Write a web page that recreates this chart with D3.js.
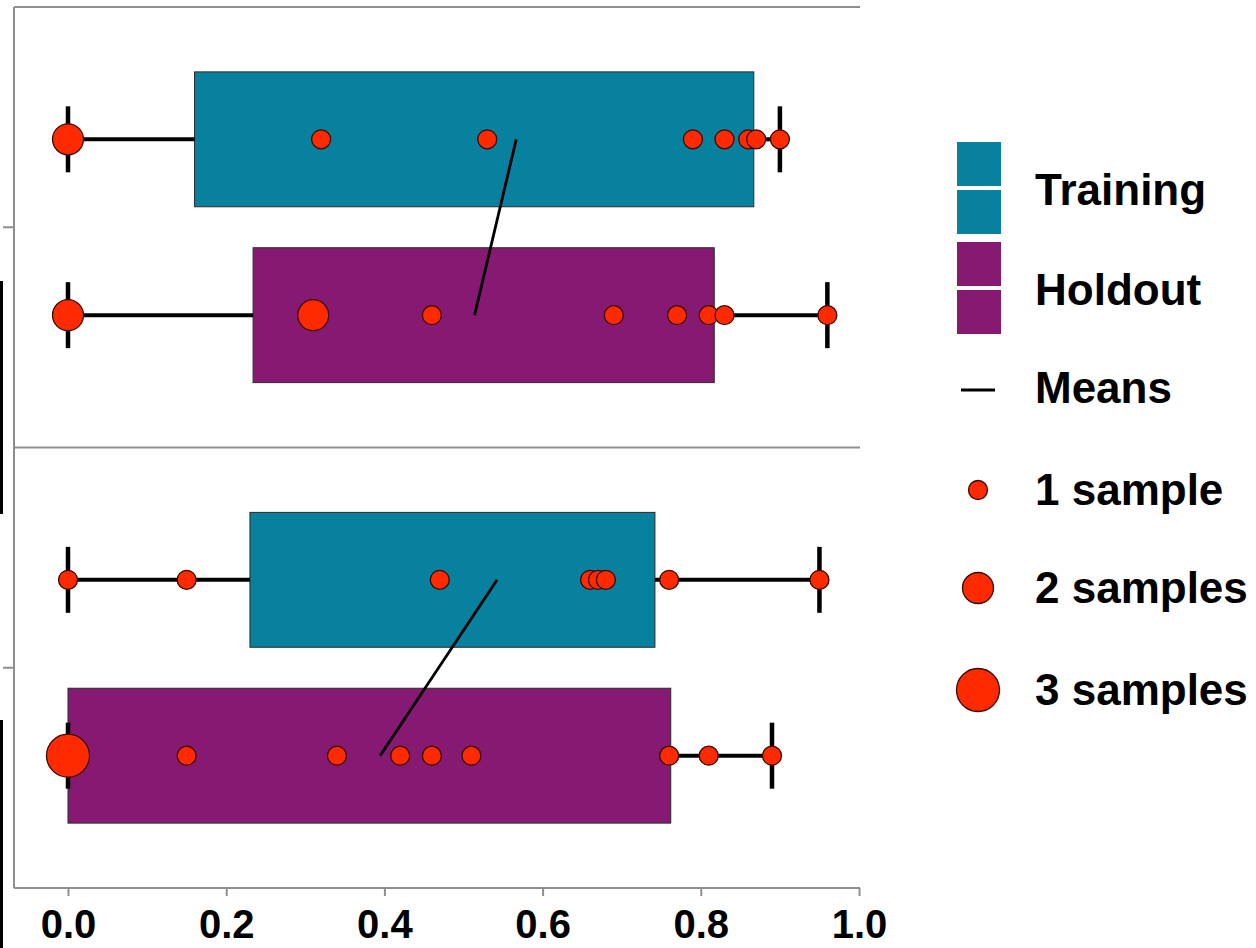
<!DOCTYPE html>
<html>
<head>
<meta charset="utf-8">
<script src="https://cdn.jsdelivr.net/npm/d3@7"></script>
<style>
  html, body { margin: 0; padding: 0; background: #fff; }
  svg { display: block; font-family: "Liberation Sans", Arial, sans-serif; }
</style>
</head>
<body>
<div id="chart"></div>
<script>
// Two stacked panels, each with a Training and a Holdout box
const panels = ['top', 'bottom'];
const groups = ['Training', 'Holdout'];

// individual samples per panel / group
const trainingTop = [0, 0, 0.32, 0.53, 0.79, 0.83, 0.86, 0.87, 0.90];
const holdoutTop = [0, 0, 0.31, 0.31, 0.46, 0.69, 0.77, 0.81, 0.83, 0.96];
const trainingBottom = [0, 0.15, 0.47, 0.66, 0.67, 0.68, 0.76, 0.95];
const holdoutBottom = [0, 0, 0, 0.15, 0.34, 0.42, 0.46, 0.51, 0.76, 0.81, 0.89];

// box edges (lower / upper)
const boxLowTop = [0.16, 0.234];
const boxHighTop = [0.867, 0.817];
const boxLowBottom = [0.23, 0.0];
const boxHighBottom = [0.742, 0.762];

const xTicks = [0, 0.2, 0.4, 0.6, 0.8, 1.0];
const legendSizes = [1, 2, 3];

const colors = { Training: '#07819d', Holdout: '#861a73' };
const pointFill = '#ff2a00';
const axisGray = '#8e8e8e';

const samples = {
    top: { Training: trainingTop, Holdout: holdoutTop },
    bottom: { Training: trainingBottom, Holdout: holdoutBottom }
};
const boxes = {
    top: { low: boxLowTop, high: boxHighTop },
    bottom: { low: boxLowBottom, high: boxHighBottom }
};

const width = 1256, height = 948;
const plotLeft = 14, plotRight = 860, plotTop = 7, plotBottom = 888;

const svg = d3.select('#chart').append('svg')
    .attr('width', width)
    .attr('height', height);

const x = d3.scaleLinear().domain([0, 1]).range([68, 859]);
const yPanel = d3.scaleBand().domain(panels).range([plotTop, plotBottom]);
const yGroup = d3.scaleBand().domain(groups)
    .range([0, yPanel.bandwidth()])
    .paddingInner(0.233)
    .paddingOuter(0.369);
const r = d3.scaleLinear().domain([1, 3]).range([9.5, 21.5]);

// cropped label remnants at the far left edge
svg.append('rect').attr('x', 0).attr('y', 281).attr('width', 3).attr('height', 233).attr('fill', '#000');
svg.append('rect').attr('x', 0).attr('y', 720).attr('width', 3).attr('height', 228).attr('fill', '#000');

const g = svg.append('g');

panels.forEach(p => {
    const py = yPanel(p);
    const means = [];

    groups.forEach((grp, i) => {
        const vals = samples[p][grp];
        const y0 = py + yGroup(grp);
        const bh = yGroup.bandwidth();
        const cy = y0 + bh / 2;
        const lo = boxes[p].low[i], hi = boxes[p].high[i];
        const mn = d3.min(vals), mx = d3.max(vals);

        // box
        g.append('rect')
            .attr('x', x(lo))
            .attr('y', y0)
            .attr('width', x(hi) - x(lo))
            .attr('height', bh)
            .attr('fill', colors[grp])
            .attr('stroke', '#2a2a2a')
            .attr('stroke-width', 1);

        // whiskers
        if (mn < lo) {
            g.append('line').attr('x1', x(mn)).attr('x2', x(lo)).attr('y1', cy).attr('y2', cy)
                .attr('stroke', '#000').attr('stroke-width', 4);
        }
        if (mx > hi) {
            g.append('line').attr('x1', x(hi)).attr('x2', x(mx)).attr('y1', cy).attr('y2', cy)
                .attr('stroke', '#000').attr('stroke-width', 4);
        }
        [mn, mx].forEach(v => {
            g.append('line').attr('x1', x(v)).attr('x2', x(v)).attr('y1', cy - 33).attr('y2', cy + 33)
                .attr('stroke', '#000').attr('stroke-width', 4.5);
        });

        means.push({ x: x(d3.mean(vals)), y: cy });
    });

    // line joining the two means
    g.append('line')
        .attr('x1', means[0].x).attr('y1', means[0].y)
        .attr('x2', means[1].x).attr('y2', means[1].y)
        .attr('stroke', '#000')
        .attr('stroke-width', 2.8);

    // points, sized by number of samples at the same value
    groups.forEach(grp => {
        const cy = py + yGroup(grp) + yGroup.bandwidth() / 2;
        const counts = Array.from(d3.rollup(samples[p][grp], v => v.length, d => d));
        g.selectAll(null)
            .data(counts)
            .join('circle')
            .attr('cx', d => x(d[0]))
            .attr('cy', cy)
            .attr('r', d => r(d[1]))
            .attr('fill', pointFill)
            .attr('stroke', '#3a0a00')
            .attr('stroke-width', 1.3);
    });
});

// frame lines
const frame = svg.append('g').attr('stroke', axisGray).attr('stroke-width', 2).attr('fill', 'none');
frame.append('line').attr('x1', plotLeft).attr('x2', plotRight).attr('y1', plotTop).attr('y2', plotTop);
frame.append('line').attr('x1', plotLeft).attr('x2', plotRight).attr('y1', yPanel('bottom')).attr('y2', yPanel('bottom'));
frame.append('line').attr('x1', plotLeft).attr('x2', plotLeft).attr('y1', plotTop).attr('y2', plotBottom);

// y ticks at panel centres
panels.forEach(p => {
    const cy = yPanel(p) + yPanel.bandwidth() / 2;
    frame.append('line').attr('x1', 3).attr('x2', plotLeft).attr('y1', cy).attr('y2', cy);
});

// x axis
const xAxis = svg.append('g')
    .attr('transform', `translate(0,${plotBottom})`)
    .call(d3.axisBottom(x).tickValues(xTicks).tickFormat(d3.format('.1f')).tickSize(8).tickPadding(14));
xAxis.select('.domain').remove();
xAxis.append('line').attr('x1', plotLeft).attr('x2', plotRight).attr('y1', 0).attr('y2', 0)
    .attr('stroke', axisGray).attr('stroke-width', 2);
xAxis.selectAll('.tick line').attr('stroke', axisGray).attr('stroke-width', 2);
xAxis.selectAll('.tick text')
    .attr('fill', '#000')
    .attr('font-size', 40)
    .attr('font-weight', 'bold')
    .attr('font-family', '"Liberation Sans", Arial, sans-serif');

// legend
const legend = svg.append('g');
const textX = 1035;
const legendText = (label, baseline) => legend.append('text')
    .attr('x', textX).attr('y', baseline)
    .attr('font-size', 44).attr('font-weight', 'bold').attr('fill', '#000')
    .text(label);

[['Training', 142], ['Holdout', 242]].forEach(([grp, top]) => {
    [0, 48].forEach(off => {
        legend.append('rect')
            .attr('x', 957).attr('y', top + off)
            .attr('width', 44).attr('height', 44)
            .attr('fill', colors[grp]);
    });
    legendText(grp, top + 63);
});

legend.append('line').attr('x1', 961).attr('x2', 995).attr('y1', 390).attr('y2', 390)
    .attr('stroke', '#000').attr('stroke-width', 3);
legendText('Means', 403);

const legendY = [490, 588, 690];
legendSizes.forEach((n, i) => {
    legend.append('circle')
        .attr('cx', 978).attr('cy', legendY[i])
        .attr('r', r(n))
        .attr('fill', pointFill)
        .attr('stroke', '#3a0a00')
        .attr('stroke-width', 1.3);
    legendText(n === 1 ? '1 sample' : `${n} samples`, legendY[i] + 15);
});
</script>
</body>
</html>
